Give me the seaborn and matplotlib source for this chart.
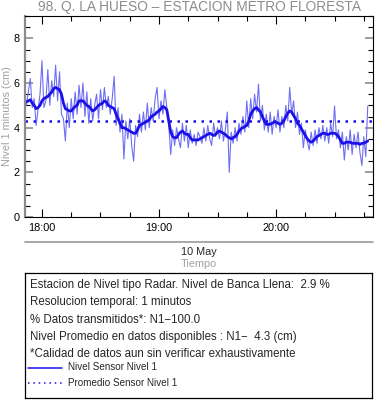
import numpy as np
import pandas as pd
from matplotlib import pyplot as plt
import matplotlib.dates as mdates
from matplotlib.lines import Line2D
from matplotlib.ticker import MultipleLocator
import seaborn as sns

sns.set_style("ticks")
plt.rcParams['font.family'] = ['Liberation Sans', 'DejaVu Sans']

# 1-minute samples starting 17:52
start_time = "2023-05-10 17:52"
raw_level = [
    5.0, 5.6, 6.2, 4.9, 5.3, 4.1, 4.8, 5.5, 7.0, 4.9,
    5.2, 6.6, 5.0, 6.1, 5.4, 6.8, 5.2, 6.5, 4.6, 4.4,
    3.4, 5.1, 4.0, 5.3, 4.4, 5.6, 4.6, 5.9, 4.9, 6.0,
    4.5, 5.6, 4.2, 5.3, 4.3, 5.0, 5.5, 4.4, 5.7, 4.8,
    5.8, 4.9, 5.4, 4.6, 5.3, 6.3, 4.1, 4.9, 3.8, 4.6,
    2.6, 4.3, 3.5, 4.4, 3.2, 2.5, 4.1, 3.6, 4.6, 3.8,
    4.7, 3.9, 5.1, 4.0, 4.9, 4.3, 5.3, 5.8, 4.4, 5.2,
    4.6, 5.7, 4.9, 4.1, 2.8, 3.9, 3.2, 4.0, 3.5, 3.1,
    4.2, 3.4, 4.1, 3.1, 3.9, 3.3, 3.7, 3.2, 3.8, 3.6,
    3.3, 4.0, 3.4, 4.1, 3.5, 3.2, 4.2, 3.6, 4.0, 3.5,
    4.3, 3.4, 3.9, 4.7, 2.0, 3.8, 3.3, 4.0, 3.4, 4.2,
    3.7, 4.5, 3.8, 5.2, 4.0, 5.3, 4.4, 5.5, 4.7, 5.95,
    4.3, 5.0, 3.9, 4.6, 3.8, 4.7, 3.7, 4.5, 4.0, 4.8,
    3.8, 4.5, 4.0, 5.0, 4.3, 5.8, 4.6, 5.2, 4.0, 4.7,
    3.7, 4.2, 3.1, 3.9, 3.4, 3.0, 3.8, 3.2, 3.9, 3.3,
    4.0, 3.5, 4.1, 3.4, 4.0, 3.3, 4.2, 3.6, 4.97, 3.5,
    3.9, 3.1, 3.8, 2.55, 3.6, 3.0, 3.9, 2.8, 3.7, 3.1,
    3.8, 2.9, 2.3, 3.6, 2.7, 4.97,
]
smooth_level = [
    5.15, 5.2, 5.25, 5.1, 5.0, 4.85, 4.9, 5.0, 5.2, 5.3,
    5.35, 5.4, 5.5, 5.6, 5.75, 5.8, 5.75, 5.7, 5.5, 5.1,
    4.85, 4.8, 4.75, 4.75, 4.85, 4.95, 5.0, 5.2, 5.2, 5.2,
    5.1, 5.0, 4.95, 4.85, 4.75, 4.8, 4.9, 5.0, 5.05, 5.1,
    5.2, 5.15, 5.0, 4.95, 4.9, 4.85, 4.6, 4.4, 4.2, 4.0,
    4.0, 3.95, 3.9, 3.85, 3.8, 3.75, 3.75, 3.9, 4.1, 4.15,
    4.2, 4.25, 4.3, 4.35, 4.5, 4.55, 4.6, 4.7, 4.75, 4.85,
    4.95, 4.9, 4.8, 4.3, 3.8, 3.6, 3.55, 3.55, 3.7, 3.8,
    3.85, 3.75, 3.7, 3.7, 3.55, 3.45, 3.45, 3.45, 3.45, 3.5,
    3.55, 3.6, 3.65, 3.7, 3.75, 3.7, 3.65, 3.7, 3.8, 3.85,
    3.8, 3.75, 3.7, 3.6, 3.55, 3.5, 3.55, 3.6, 3.7, 3.85,
    3.95, 4.0, 4.05, 4.1, 4.3, 4.6, 4.75, 4.85, 4.9, 4.8,
    4.7, 4.5, 4.3, 4.15, 4.15, 4.15, 4.2, 4.25, 4.25, 4.2,
    4.15, 4.2, 4.3, 4.5, 4.65, 4.75, 4.7, 4.55, 4.4, 4.2,
    4.1, 3.95, 3.8, 3.65, 3.5, 3.4, 3.35, 3.4, 3.5, 3.6,
    3.65, 3.7, 3.75, 3.75, 3.7, 3.7, 3.75, 3.75, 3.75, 3.7,
    3.6, 3.45, 3.3, 3.3, 3.35, 3.35, 3.35, 3.3, 3.3, 3.3,
    3.3, 3.25, 3.3, 3.3, 3.35, 3.4,
]
mean_level = 4.3

title = "98. Q. LA HUESO \u2013 ESTACION METRO FLORESTA"
info_lines = [
    "Estacion de Nivel tipo Radar. Nivel de Banca Llena:  2.9 %",
    "Resolucion temporal: 1 minutos",
    "% Datos transmitidos*: N1\u2212100.0",
    "Nivel Promedio en datos disponibles : N1\u2212  4.3 (cm)",
    "*Calidad de datos aun sin verificar exhaustivamente",
]
legend_labels = ["Nivel Sensor Nivel 1", "Promedio Sensor Nivel 1"]

times = pd.date_range(start_time, periods=len(raw_level), freq="1min")
df = pd.DataFrame({"time": times, "raw": raw_level, "smooth": smooth_level})

blue_light = "#6e6ef5"
blue = "#1c10e8"
gray = "#8c8c8c"

fig = plt.figure(figsize=(3.75, 4.04), dpi=100)
ax = fig.add_axes([25/375, 1 - 217/404, 348/375, 201/404])

sns.lineplot(data=df, x="time", y="raw", ax=ax, color=blue_light, lw=0.8)
sns.lineplot(data=df, x="time", y="smooth", ax=ax, color=blue, lw=2.0)
ax.axhline(mean_level, color=blue, lw=1.8, linestyle=(0, (1, 2.2)))

ax.set_xlim(pd.Timestamp("2023-05-10 17:51:18"), pd.Timestamp("2023-05-10 20:49:42"))
ax.set_ylim(0, 9)
ax.yaxis.set_major_locator(MultipleLocator(2))
ax.yaxis.set_minor_locator(MultipleLocator(0.5))
ax.xaxis.set_major_locator(mdates.HourLocator())
ax.xaxis.set_minor_locator(mdates.MinuteLocator(byminute=[15, 30, 45]))
ax.xaxis.set_major_formatter(mdates.DateFormatter("%H:%M"))

ax.tick_params(which="both", direction="in", top=True, right=True,
               labelsize=7.8, colors="black", pad=4)
ax.tick_params(which="major", length=6, width=0.8)
ax.tick_params(which="minor", length=3.5, width=0.8)
ax.tick_params(axis="y", which="major", right=True, color=gray, width=1.2)
ax.tick_params(axis="y", labelcolor="black")

for s in ["top", "right", "bottom"]:
    ax.spines[s].set_color("black")
    ax.spines[s].set_linewidth(0.8)
ax.spines["left"].set_color(gray)
ax.spines["left"].set_linewidth(1.6)

ax.set_xlabel("")
ax.set_ylabel("Nivel 1 minutos (cm)", color="#a0a0a0", fontsize=7.8)
ax.yaxis.set_label_coords(-13/348, 0.5)
fig.text(200/375, 1 - 7/404, title, ha="center", va="center", color=gray, fontsize=9.9)

# date / axis title under the time axis
fig.add_artist(Line2D([25/375, 373/375], [1 - 242/404, 1 - 242/404],
                      color="#9a9a9a", lw=1.2))
fig.text(199/375, 1 - 252/404, "10 May", ha="center", va="center", fontsize=7.8)
fig.text(199/375, 1 - 264/404, "Tiempo", ha="center", va="center",
         fontsize=7.8, color="#a0a0a0")

# info box
box = fig.add_axes([25/375, 1 - 398/404, 347/375, 125/404])
box.set_xlim(0, 347)
box.set_ylim(125, 0)
box.set_xticks([])
box.set_yticks([])
for s in box.spines.values():
    s.set_color("black")
    s.set_linewidth(0.9)
for i, line in enumerate(info_lines):
    box.text(5, 12 + i * 17.3, line, ha="left", va="center", fontsize=8.3)
box.plot([3, 37], [94.5, 94.5], color=blue, lw=1.1)
box.text(43, 94.5, legend_labels[0], ha="left", va="center", fontsize=7.1)
box.plot([3, 37], [110, 110], color=blue, lw=1.1, linestyle=(0, (1, 2.5)))
box.text(43, 110, legend_labels[1], ha="left", va="center", fontsize=7.1)

fig.savefig("out.png", dpi=100)
